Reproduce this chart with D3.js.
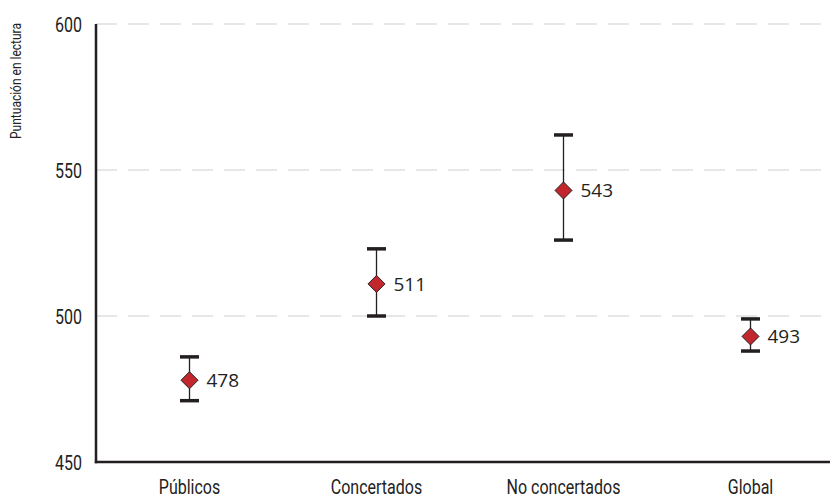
<!DOCTYPE html>
<html><head><meta charset="utf-8">
<script src="https://cdn.jsdelivr.net/npm/d3@7"></script>
<style>body{margin:0;background:#fff}</style>
</head><body>
<svg id="c" width="830" height="497"></svg>
<script>
const categories = ["Públicos", "Concertados", "No concertados", "Global"];
const means = [478, 511, 543, 493];
const lower = [471, 500, 526, 488];
const upper = [486, 523, 562, 499];
const yTicks = [450, 500, 550, 600];

const svg = d3.select("#c");
const M = {l: 96, r: 844, t: 24, b: 462};
const x = d3.scaleBand().domain(categories).range([M.l, M.r]);
const y = d3.scaleLinear().domain([450, 600]).range([M.b, M.t]);
const font = "Roboto, 'DejaVu Sans', sans-serif";
const SX = 0.8;

// grid
svg.append("g").selectAll("line").data(yTicks.filter(d => d > 450)).join("line")
  .attr("x1", M.l).attr("x2", 830).attr("y1", d => y(d)).attr("y2", d => y(d))
  .attr("stroke", "#cfcfcf").attr("stroke-width", 1.2).attr("stroke-dasharray", "21,11");

// y axis
const ya = svg.append("g").attr("transform", `translate(${M.l},0)`)
  .call(d3.axisLeft(y).tickValues(yTicks).tickSize(0));
ya.select(".domain").remove();
ya.selectAll("text").attr("font-family", font).attr("font-size", 20).attr("fill", "#222")
  .attr("x", -14 / SX).attr("dy", "0.36em").attr("transform", `scale(${SX},1)`);

// x axis
const xa = svg.append("g").attr("transform", `translate(0,${M.b})`)
  .call(d3.axisBottom(x).tickSize(0));
xa.select(".domain").remove();
xa.selectAll("text").attr("font-family", font).attr("font-size", 20).attr("fill", "#222")
  .attr("y", 32).attr("dy", 0).attr("transform", `scale(${SX},1)`);

svg.append("line").attr("x1", M.l).attr("x2", M.l).attr("y1", M.t).attr("y2", M.b + 1.2)
  .attr("stroke", "#231f20").attr("stroke-width", 2.5);
svg.append("line").attr("x1", M.l - 1.2).attr("x2", 830).attr("y1", M.b).attr("y2", M.b)
  .attr("stroke", "#231f20").attr("stroke-width", 2.5);

// y title
svg.append("text").attr("transform", `translate(21,81) rotate(-90) scale(${SX},1)`)
  .attr("text-anchor", "middle").attr("font-family", font).attr("font-size", 15)
  .attr("fill", "#222").text("Puntuación en lectura");

// error bars
const g = svg.append("g").selectAll("g").data(categories).join("g")
  .attr("transform", d => `translate(${x(d) + x.bandwidth()/2},0)`);
g.append("line").attr("y1", (d, i) => y(upper[i])).attr("y2", (d, i) => y(lower[i]))
  .attr("stroke", "#231f20").attr("stroke-width", 1.3);
g.append("line").attr("x1", -9.5).attr("x2", 9.5).attr("y1", (d, i) => y(upper[i])).attr("y2", (d, i) => y(upper[i]))
  .attr("stroke", "#231f20").attr("stroke-width", 3.5);
g.append("line").attr("x1", -9.5).attr("x2", 9.5).attr("y1", (d, i) => y(lower[i])).attr("y2", (d, i) => y(lower[i]))
  .attr("stroke", "#231f20").attr("stroke-width", 3.5);
g.append("path").attr("d", "M0,-8.5L8.5,0L0,8.5L-8.5,0Z")
  .attr("transform", (d, i) => `translate(0,${y(means[i])})`)
  .attr("fill", "#c1272d").attr("stroke", "#231f20").attr("stroke-width", 1);
g.append("text").attr("x", 17).attr("y", (d, i) => y(means[i])).attr("dy", "0.36em")
  .attr("font-family", "'Open Sans',sans-serif").attr("font-size", 19).attr("fill", "#231f20")
  .text((d, i) => means[i]);
</script>
</body></html>
